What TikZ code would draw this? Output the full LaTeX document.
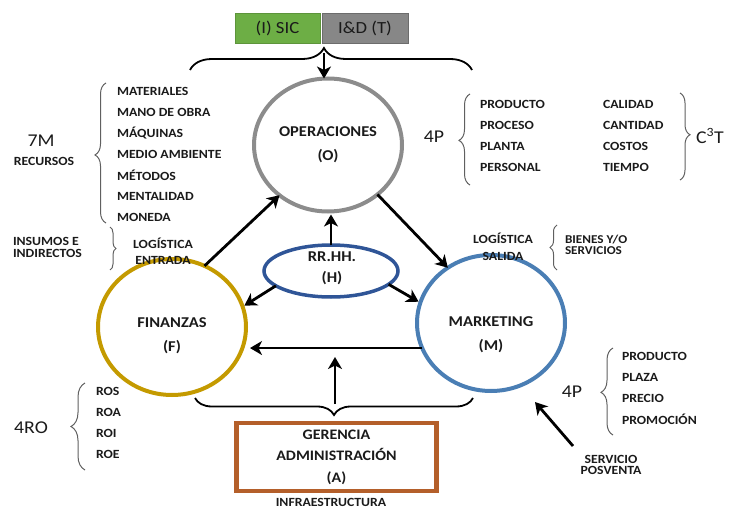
\documentclass[tikz,border=0pt]{standalone}
\usepackage{fontspec}
\setmainfont{Carlito}[FakeStretch=1.1]
\usetikzlibrary{arrows.meta,shapes.geometric,decorations.pathreplacing}
\definecolor{opsgray}{HTML}{8C8C8C}
\definecolor{fingold}{HTML}{C49A00}
\definecolor{mktblue}{HTML}{4A7EB4}
\definecolor{hrblue}{HTML}{2F5597}
\definecolor{admbrown}{HTML}{B45F2A}
\definecolor{sicgreen}{HTML}{6DAE45}
\definecolor{idgray}{HTML}{878787}
\definecolor{ink}{HTML}{1A1A1A}

\begin{document}
\begin{tikzpicture}[x=1pt,y=-1pt,
  every node/.style={text=ink, inner sep=0pt, outer sep=0pt},
  ring/.style={ellipse, draw, line width=4pt, minimum width=148pt, minimum height=136pt},
  big/.style={font=\fontsize{15}{24}\selectfont\bfseries, align=center},
  small/.style={font=\fontsize{12.5}{14}\selectfont\bfseries},
  item/.style={small, anchor=west},
  tag/.style={font=\fontsize{18}{20}\selectfont},
  flow/.style={draw=black, line width=2.8pt, -{Stealth[length=12pt,width=14pt,inset=3.5pt]}},
  lbrace/.style={draw=gray!75!black, line width=1pt, decorate, decoration={brace, amplitude=#1}},
  bigbrace/.style={draw=black, line width=1.8pt, decorate, decoration={brace, amplitude=#1}},
]
\useasboundingbox (0,0) rectangle (742,508);

% top boxes
\node[fill=sicgreen, draw=sicgreen!85!black, line width=.6pt, minimum width=85pt, minimum height=30pt,
      font=\fontsize{17}{20}\selectfont] (sic) at (277.5,28) {(I) SIC};
\node[fill=idgray, draw=idgray!80!black, line width=.6pt, minimum width=86pt, minimum height=30pt,
      font=\fontsize{17}{20}\selectfont] (id) at (365,28) {I\&D (T)};

% main areas
\node[ring, draw=opsgray, minimum height=133pt] (ops) at (328,145) {};
\node[big] (opsT) at (328,145) {OPERACIONES\\(O)};
\node[ring, draw=fingold] (fin) at (172,327) {};
\node[big] (finT) at (172,336) {FINANZAS\\(F)};
\node[ring, draw=mktblue] (mkt) at (491,323) {};
\node[big] (mktT) at (491,335) {MARKETING\\(M)};
\node[ellipse, draw=hrblue, line width=3.5pt, minimum width=134pt, minimum height=52pt] (hr) at (331,271) {};
\node[big, font=\fontsize{15}{21}\selectfont\bfseries] (hrT) at (332,268.5) {RR.HH.\\(H)};
\node[draw=admbrown, line width=4.5pt, minimum width=200pt, minimum height=68pt] (adm) at (336.5,457) {};
\node[big, font=\fontsize{14.5}{21.5}\selectfont\bfseries] (admT) at (336.5,457) {GERENCIA\\ADMINISTRACIÓN\\(A)};
\node[small] (infra) at (331,502) {INFRAESTRUCTURA};

% braces above and below the centre
\draw[bigbrace=22, decoration={aspect=0.475}] (190,70) -- (472,70);
\coordinate (topTip) at (324,53);
\draw[bigbrace=17] (473,398) -- (195,398);
\coordinate (botTip) at (335,404);
\coordinate (botHead) at (335,357);

% flows
\draw[flow] (topTip) -- (topTip |- ops.north);
\draw[flow] (fin.62) -- (ops.226);
\draw[flow] (ops.-45) -- (mkt.128);
\draw[flow, shorten >=4pt] (mkt.200) -- (mkt.200 -| fin.east);
\draw[flow, shorten >=3pt] (hr.north) -- (hr.north |- ops.south);
\draw[flow, shorten >=2pt] (hr.195) -- (fin.16);
\draw[flow, shorten >=2pt] (hr.-13) -- (mkt.164);
\draw[flow] (botTip) -- (botHead);

% 7M resources
\node[tag] (sevenM) at (41,141) {7M};
\node[small] (rec) at (44,161) {RECURSOS};
\draw[lbrace=11, decoration={aspect=0.486}] (106,223) -- (106,83);
\foreach \t [count=\i] in {MATERIALES, MANO DE OBRA, MÁQUINAS, MEDIO AMBIENTE, MÉTODOS, MENTALIDAD, MONEDA}
  \node[item] (m\i) at (117,{70+21*\i}) {\t};

% inputs and inbound logistics
\node[small, anchor=west, align=left, font=\fontsize{12.5}{11.5}\selectfont\bfseries] (ins) at (13,247.5) {INSUMOS E\\INDIRECTOS};
\draw[lbrace=6] (110,227) -- (110,270);
\node[small, align=center, font=\fontsize{12.5}{16}\selectfont\bfseries] (lin) at (163,251) {LOGÍSTICA\\ENTRADA};

% outbound logistics
\node[small, align=center, font=\fontsize{12.5}{17}\selectfont\bfseries] (lout) at (503,246.5) {LOGÍSTICA\\SALIDA};
\draw[lbrace=7] (557,270) -- (557,225);
\node[small, anchor=west, align=left, font=\fontsize{12}{10.5}\selectfont\bfseries] (bys) at (565,245) {BIENES Y/O\\SERVICIOS};

% 4P of operations and C3T
\node[tag] (fourP) at (434,137) {4P};
\draw[lbrace=11, decoration={aspect=0.49}] (470,185) -- (470,94);
\foreach \t [count=\i] in {PRODUCTO, PROCESO, PLANTA, PERSONAL}
  \node[item] (p\i) at (480,{83+21*\i}) {\t};
\foreach \t [count=\i] in {CALIDAD, CANTIDAD, COSTOS, TIEMPO}
  \node[item] (c\i) at (603,{83+21*\i}) {\t};
\draw[lbrace=10, decoration={aspect=0.48}] (680,93) -- (680,180);
\node[tag] (cT) at (710,136) {C\textsuperscript{3}T};

% 4RO
\node[tag] (fourRO) at (31,428) {4RO};
\draw[lbrace=14] (85,470) -- (85,383);
\foreach \t [count=\i] in {ROS, ROA, ROI, ROE}
  \node[item] (r\i) at (96,{370+21*\i}) {\t};

% 4P of marketing
\node[tag] (fourPm) at (572,392) {4P};
\draw[lbrace=12, decoration={aspect=0.49}] (613,435) -- (613,348);
\foreach \t [count=\i] in {PRODUCTO, PLAZA, PRECIO, PROMOCIÓN}
  \node[item] (k\i) at (622,{335+21*\i}) {\t};

% after-sales service
\node[small, align=center, font=\fontsize{12.5}{11.5}\selectfont\bfseries] (pv) at (611,465) {SERVICIO\\POSVENTA};
\coordinate (pvTail) at (573,446);
\coordinate (pvHead) at (535,402);
\draw[flow] (pvTail) -- (pvHead);
\end{tikzpicture}
\end{document}
